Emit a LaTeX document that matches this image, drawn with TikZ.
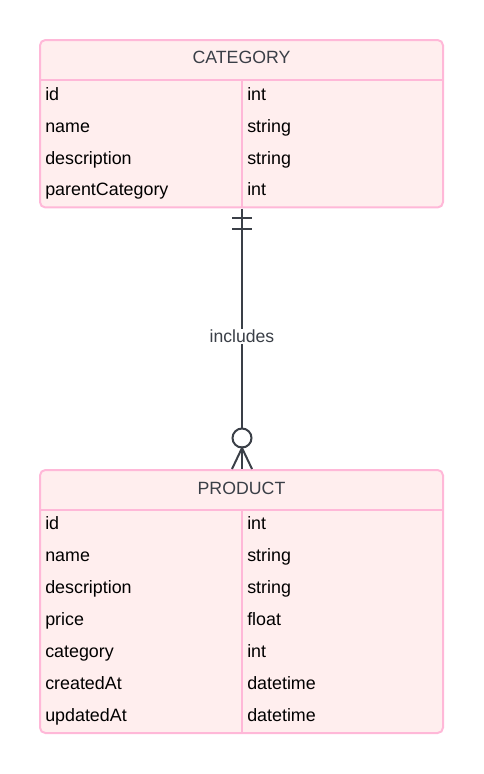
\documentclass[tikz,border=0pt]{standalone}
\usepackage{fontspec}
\setmainfont{Liberation Sans}
\definecolor{entfill}{HTML}{FFEEEE}
\definecolor{entline}{HTML}{FFB8D8}
\definecolor{relline}{HTML}{3A3F47}
\definecolor{hdrtext}{HTML}{3A3F47}
\tikzset{
  entity/.style={draw=entline, fill=entfill, line width=1.5pt, rounded corners=4pt, minimum width=302.25pt, inner sep=0pt},
  sepline/.style={draw=entline, line width=1.5pt},
  hdr/.style={anchor=base, inner sep=0pt, text=hdrtext, font=\fontsize{13.3pt}{15pt}\selectfont},
  fld/.style={anchor=base west, inner sep=0pt, text=black, font=\fontsize{13.4pt}{15pt}\selectfont},
  rel/.style={draw=relline, line width=1.5pt},
  rellabel/.style={fill=white, inner sep=1pt, text=hdrtext, font=\fontsize{13.2pt}{15pt}\selectfont},
}
\begin{document}
\begin{tikzpicture}[x=0.75pt,y=-0.75pt]
\useasboundingbox (0,0) rectangle (484,774);
% CATEGORY
\node[entity, minimum height=125.6pt] (cat) at (241.5,123.75) {};
\coordinate (cath) at (40,80);
\coordinate (cathr) at (443,80);
\coordinate (catd) at (242,80);
\coordinate (catdb) at (242,207.5);
\draw[sepline] (cath) -- (cathr);
\draw[sepline] (catd) -- (catdb);
\node[hdr] (catt) at (241.5,64) {CATEGORY};
\node[fld] (c1) at (45,100.5) {id};
\node[fld] (c1t) at (247,100.5) {int};
\node[fld] (c2) at (45,132.3) {name};
\node[fld] (c2t) at (247,132.3) {string};
\node[fld] (c3) at (45,164.1) {description};
\node[fld] (c3t) at (247,164.1) {string};
\node[fld] (c4) at (45,195.9) {parentCategory};
\node[fld] (c4t) at (247,195.9) {int};
% PRODUCT
\node[entity, minimum height=197.25pt] (prod) at (241.5,601.5) {};
\coordinate (prodh) at (40,510);
\coordinate (prodhr) at (443,510);
\coordinate (prodd) at (242,510);
\coordinate (proddb) at (242,733);
\draw[sepline] (prodh) -- (prodhr);
\draw[sepline] (prodd) -- (proddb);
\node[hdr] (prodt) at (241.5,494) {PRODUCT};
\node[fld] (p1) at (45,529.3) {id};
\node[fld] (p1t) at (247,529.3) {int};
\node[fld] (p2) at (45,561.3) {name};
\node[fld] (p2t) at (247,561.3) {string};
\node[fld] (p3) at (45,593.3) {description};
\node[fld] (p3t) at (247,593.3) {string};
\node[fld] (p4) at (45,625.3) {price};
\node[fld] (p4t) at (247,625.3) {float};
\node[fld] (p5) at (45,657.3) {category};
\node[fld] (p5t) at (247,657.3) {int};
\node[fld] (p6) at (45,689.3) {createdAt};
\node[fld] (p6t) at (247,689.3) {datetime};
\node[fld] (p7) at (45,721.3) {updatedAt};
\node[fld] (p7t) at (247,721.3) {datetime};
% relationship
\coordinate (rtop) at (242,208.5);
\coordinate (rbot) at (242,469);
\node[circle, draw=relline, line width=1.5pt, fill=white, minimum size=14.25pt, inner sep=0pt] (circ) at (242,438) {};
\draw[rel] (rtop) -- (circ.north);
\draw[rel] (circ.south) -- (rbot);
\coordinate (b1l) at (232,218); \coordinate (b1r) at (252,218);
\coordinate (b2l) at (232,229); \coordinate (b2r) at (252,229);
\draw[rel] (b1l) -- (b1r);
\draw[rel] (b2l) -- (b2r);
\coordinate (cfa) at (242,448);
\coordinate (cfl) at (232,469);
\coordinate (cfr) at (252,469);
\draw[rel] (cfl) -- (cfa) -- (cfr);
\node[rellabel, anchor=base] (lab) at (242,342.7) {includes};
\end{tikzpicture}
\end{document}
